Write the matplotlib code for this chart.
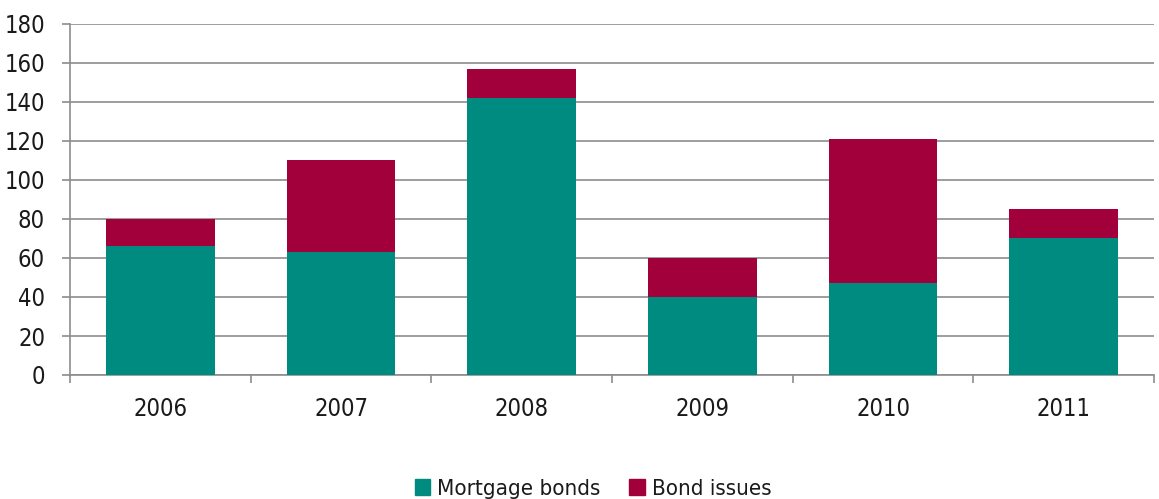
import matplotlib
matplotlib.use("Agg")
import matplotlib.pyplot as plt
import numpy as np
from matplotlib.patches import Patch
from matplotlib import font_manager

years = ["2006", "2007", "2008", "2009", "2010", "2011"]
mortgage_bonds = [66, 63, 142, 40, 47, 70]
bond_issues = [14, 47, 15, 20, 74, 15]
y_ticks = [0, 20, 40, 60, 80, 100, 120, 140, 160, 180]

teal = "#008B80"
crimson = "#A1003A"
grid_c = "#8C8C8C"

names = {f.name for f in font_manager.fontManager.ttflist}
if 'Liberation Sans Narrow' in names:
    plt.rcParams['font.family'] = ['Liberation Sans Narrow', 'DejaVu Sans']
else:
    plt.rcParams['font.family'] = ['DejaVu Sans']
    plt.rcParams['font.stretch'] = 'condensed'

fs = 17

fig = plt.figure(figsize=(11.59, 4.99), dpi=100)
ax = fig.add_axes([70/1159, 1-375/499, (1154-70)/1159, (375-24)/499])

x = np.arange(len(years))
ax.bar(x, mortgage_bonds, width=0.6, color=teal, zorder=3, label="Mortgage bonds")
ax.bar(x, bond_issues, width=0.6, bottom=mortgage_bonds, color=crimson, zorder=3, label="Bond issues")

ax.set_xlim(-0.5, len(years)-0.5)
ax.set_ylim(0, 180)
ax.set_yticks(y_ticks)
ax.set_yticklabels([str(v) for v in y_ticks], fontsize=fs, color="#1a1a1a")
ax.yaxis.grid(True, color=grid_c, linewidth=1.2, zorder=0)
ax.set_axisbelow(True)

ax.set_xticks(np.arange(-0.5, len(years), 1.0))
ax.set_xticklabels([])
ax.set_xticks(x, minor=True)
ax.set_xticklabels(years, minor=True, fontsize=fs, color="#1a1a1a")
ax.tick_params(axis='x', which='major', length=6, width=1.2, color=grid_c, direction='out')
ax.tick_params(axis='x', which='minor', length=0, pad=16)
ax.tick_params(axis='y', length=6, width=1.2, color=grid_c, direction='out', pad=12)

for s in ['top', 'right']:
    ax.spines[s].set_visible(False)
for s in ['left', 'bottom']:
    ax.spines[s].set_color(grid_c)
    ax.spines[s].set_linewidth(1.2)

handles = [Patch(color=teal, label="Mortgage bonds"), Patch(color=crimson, label="Bond issues")]
fig.legend(handles=handles, loc='center', bbox_to_anchor=(593/1159, 1-489/499), ncol=2,
           frameon=False, fontsize=16, handlelength=0.7, handleheight=0.7,
           handletextpad=0.3, columnspacing=1.3, labelcolor="#1a1a1a")

fig.savefig("out.png", dpi=100)
